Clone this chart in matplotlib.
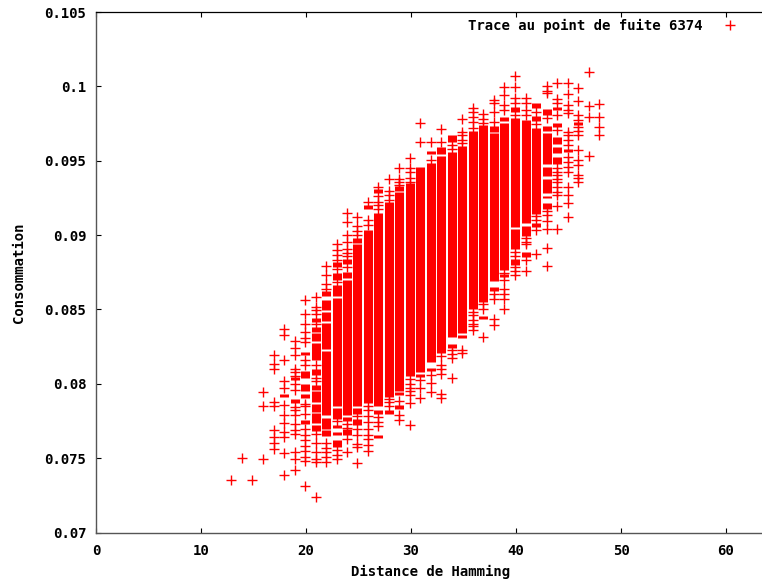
import matplotlib
matplotlib.use('Agg')
import matplotlib.pyplot as plt
from matplotlib.transforms import ScaledTranslation

RED = '#ff0000'

x_ticks = [0, 10, 20, 30, 40, 50, 60]
y_ticks = [0.07, 0.075, 0.08, 0.085, 0.09, 0.095, 0.1, 0.105]
y_tick_labels = ['0.07', '0.075', '0.08', '0.085', '0.09', '0.095', '0.1', '0.105']

# isolated readings, one list per Hamming distance
hd13 = [0.07350]
hd14 = [0.07503]
hd15 = [0.07350]
hd16 = [0.07947, 0.07850, 0.07496]
hd17 = [0.08196, 0.08135, 0.08102, 0.07877, 0.07850, 0.07687, 0.07642, 0.07601, 0.07563]
hd18 = [0.08366, 0.08326, 0.08162, 0.08019, 0.07974, 0.07855, 0.07792, 0.07736, 0.07675, 0.07642, 0.07536, 0.07390]
hd19 = [0.08286, 0.08241, 0.08191, 0.08102, 0.08079, 0.08052, 0.07996, 0.07960, 0.07844, 0.07826, 0.07788,
        0.07731, 0.07686, 0.07664, 0.07541, 0.07496, 0.07417]
hd20 = [0.08562, 0.08467, 0.08400, 0.08348, 0.08310, 0.08281, 0.08162, 0.08124, 0.07866, 0.07850, 0.07799,
        0.07693, 0.07657, 0.07619, 0.07579, 0.07547, 0.07507, 0.07478, 0.07316]
hd21 = [0.08584, 0.08517, 0.08494, 0.08467, 0.08405, 0.08124, 0.08041, 0.08019, 0.07664, 0.07603, 0.07541,
        0.07491, 0.07473, 0.07242]
hd22 = [0.08793, 0.08730, 0.08674, 0.08636, 0.07601, 0.07570, 0.07541, 0.07507, 0.07473]
hd23 = [0.08943, 0.08898, 0.08864, 0.08831, 0.08775, 0.08685, 0.07749, 0.07552, 0.07518, 0.07491]
hd24 = [0.09149, 0.09089, 0.08999, 0.08954, 0.08903, 0.08880, 0.08858, 0.08786, 0.07731, 0.07704, 0.07630, 0.07541]
hd25 = [0.09122, 0.09060, 0.09028, 0.08999, 0.07781, 0.07693, 0.07653, 0.07597, 0.07574, 0.07469]
hd26 = [0.09223, 0.09100, 0.09066, 0.07848, 0.07821, 0.07781, 0.07743, 0.07698, 0.07653, 0.07630, 0.07586, 0.07547]
hd27 = [0.09324, 0.09262, 0.09223, 0.09201, 0.09172, 0.07776, 0.07743, 0.07713]
hd28 = [0.09376, 0.09295, 0.09268, 0.09235, 0.07900, 0.07877, 0.07850]
hd29 = [0.09454, 0.09380, 0.09358, 0.09336, 0.07882, 0.07787, 0.07754]
hd30 = [0.09515, 0.09448, 0.09425, 0.09387, 0.09358, 0.08034, 0.08001, 0.07974, 0.07949, 0.07922, 0.07873, 0.07725]
hd31 = [0.09751, 0.09623, 0.08028, 0.07971, 0.07904]
hd32 = [0.09623, 0.09508, 0.08061, 0.08005, 0.07945]
hd33 = [0.09712, 0.09627, 0.08187, 0.08128, 0.08102, 0.08063, 0.07933, 0.07906]
hd34 = [0.09605, 0.09576, 0.08225, 0.08198, 0.08173, 0.08039]
hd35 = [0.09778, 0.09695, 0.09672, 0.09638, 0.09616, 0.08225, 0.08209]
hd36 = [0.09856, 0.09829, 0.09796, 0.09762, 0.09717, 0.08483, 0.08461, 0.08427, 0.08405, 0.08387, 0.08364]
hd37 = [0.09813, 0.09778, 0.09751, 0.08535, 0.08505, 0.08315]
hd38 = [0.09908, 0.09885, 0.09829, 0.09762, 0.08606, 0.08573, 0.08434, 0.08393]
hd39 = [0.09997, 0.09941, 0.09874, 0.09840, 0.08746, 0.08696, 0.08640, 0.08606, 0.08568, 0.08505]
hd40 = [0.10072, 0.09997, 0.09919, 0.09885, 0.09807, 0.08887, 0.08860, 0.08786, 0.08757, 0.08730]
hd41 = [0.09919, 0.09885, 0.09840, 0.09807, 0.08977, 0.08954, 0.08938, 0.08835, 0.08759]
hd42 = [0.09829, 0.09744, 0.09127, 0.09100, 0.09033, 0.08871]
hd43 = [0.10002, 0.09968, 0.09953, 0.09784, 0.09161, 0.09134, 0.09096, 0.09044, 0.08914, 0.08793]
hd44 = [0.10024, 0.09912, 0.09885, 0.09807, 0.09706, 0.09448, 0.09425, 0.09403, 0.09380, 0.09358, 0.09324,
        0.09291, 0.09268, 0.09196, 0.09039]
hd45 = [0.10024, 0.09948, 0.09874, 0.09840, 0.09818, 0.09695, 0.09672, 0.09638, 0.09605, 0.09526, 0.09493,
        0.09459, 0.09421, 0.09320, 0.09268, 0.09217, 0.09122]
hd46 = [0.09986, 0.09903, 0.09807, 0.09773, 0.09728, 0.09701, 0.09672, 0.09571, 0.09508, 0.09470, 0.09403,
        0.09387, 0.09358]
hd47 = [0.10094, 0.09867, 0.09791, 0.09531]
hd48 = [0.09879, 0.09796, 0.09728, 0.09672]

singles = {13: hd13, 14: hd14, 15: hd15, 16: hd16, 17: hd17, 18: hd18, 19: hd19, 20: hd20, 21: hd21, 22: hd22,
           23: hd23, 24: hd24, 25: hd25, 26: hd26, 27: hd27, 28: hd28, 29: hd29, 30: hd30, 31: hd31, 32: hd32,
           33: hd33, 34: hd34, 35: hd35, 36: hd36, 37: hd37, 38: hd38, 39: hd39, 40: hd40, 41: hd41, 42: hd42,
           43: hd43, 44: hd44, 45: hd45, 46: hd46, 47: hd47, 48: hd48}

# stretches where the crosses overlap into solid red: distance, top, bottom
band_x = [18, 19, 19, 20, 20, 20, 20, 20,
          21, 21, 21, 21, 21, 21, 21, 21, 21, 21,
          22, 22, 22, 22, 22, 22, 22,
          23, 23, 23, 23, 23, 23, 23, 23,
          24, 24, 24, 24, 24,
          25, 25, 25, 25,
          26, 26,
          27, 27, 27, 27,
          28, 28,
          29, 29, 29, 29,
          30,
          31, 31,
          32, 32, 32,
          33, 33,
          34, 34, 34,
          35, 35,
          36,
          37, 37,
          38, 38, 38,
          39, 39, 39,
          40, 40, 40, 40,
          41, 41, 41,
          42, 42, 42, 42,
          43, 43, 43, 43, 43, 43, 43,
          44, 44, 44, 44, 44,
          45, 46]
band_top = [0.07934, 0.08045, 0.07900, 0.08214, 0.08086, 0.08001, 0.07929, 0.07754,
            0.08445, 0.08382, 0.08341, 0.08277, 0.08097, 0.07994, 0.07951, 0.07866, 0.07803, 0.07720,
            0.08622, 0.08562, 0.08483, 0.08409, 0.08220, 0.07769, 0.07687,
            0.08817, 0.08745, 0.08663, 0.08580, 0.07839, 0.07720, 0.07675, 0.07619,
            0.08842, 0.08752, 0.08696, 0.07776, 0.07695,
            0.08977, 0.08938, 0.07835, 0.07761,
            0.09201, 0.09033,
            0.09313, 0.09149, 0.07821, 0.07658,
            0.09221, 0.07821,
            0.09329, 0.09288, 0.07944, 0.07859,
            0.09351,
            0.09459, 0.08068,
            0.09566, 0.09486, 0.08106,
            0.09589, 0.09531,
            0.09672, 0.09560, 0.08265,
            0.09598, 0.08331,
            0.09699,
            0.09739, 0.08456,
            0.09735, 0.09688, 0.08649,
            0.09795, 0.09755, 0.08741,
            0.09863, 0.09787, 0.09039, 0.08842,
            0.09773, 0.09062, 0.08887,
            0.09885, 0.09802, 0.09719, 0.09078,
            0.09845, 0.09735, 0.09686, 0.09459, 0.09376, 0.09266, 0.09216,
            0.09863, 0.09755, 0.09661, 0.09589, 0.09526,
            0.09576, 0.09762]
band_bottom = [0.07911, 0.08023, 0.07870, 0.08191, 0.08041, 0.07951, 0.07907, 0.07732,
               0.08418, 0.08348, 0.08288, 0.08158, 0.08061, 0.07960, 0.07877, 0.07810, 0.07738, 0.07682,
               0.08590, 0.08499, 0.08422, 0.08236, 0.07788, 0.07698, 0.07648,
               0.08784, 0.08696, 0.08589, 0.07850, 0.07765, 0.07700, 0.07653, 0.07574,
               0.08804, 0.08708, 0.07788, 0.07747, 0.07658,
               0.08947, 0.07848, 0.07799, 0.07720,
               0.09172, 0.07870,
               0.09286, 0.07848, 0.07794, 0.07635,
               0.07911, 0.07799,
               0.09297, 0.07951, 0.07922, 0.07828,
               0.08050,
               0.08077, 0.08045,
               0.09542, 0.08146, 0.08084,
               0.09544, 0.08205,
               0.09623, 0.08315, 0.08238,
               0.08339, 0.08308,
               0.08501,
               0.08550, 0.08434,
               0.09694, 0.08689, 0.08627,
               0.09768, 0.08764, 0.08718,
               0.09829, 0.09053, 0.08903, 0.08797,
               0.09080, 0.08992, 0.08853,
               0.09852, 0.09766, 0.09140, 0.09055,
               0.09807, 0.09699, 0.09477, 0.09396, 0.09282, 0.09248, 0.09174,
               0.09840, 0.09724, 0.09611, 0.09553, 0.09477,
               0.09558, 0.09739]

plt.rcParams['font.family'] = ['DejaVu Sans Mono']
plt.rcParams['font.weight'] = 'bold'
plt.rcParams['font.size'] = 10.1

fig = plt.figure(figsize=(7.62, 5.87), dpi=100)
ax = fig.add_axes([96 / 762, 1 - 532.5 / 587, 666 / 762, 520.5 / 587])

# marks sit one pixel left of the tick positions in the original
nudge = ax.transData + ScaledTranslation(-1 / 100, 0, fig.dpi_scale_trans)

ax.vlines(band_x, band_bottom, band_top, color=RED, linewidth=6.5, transform=nudge)
points_x = []
points_y = []
for distance, values in singles.items():
    points_x += [distance] * len(values)
    points_y += values
ax.plot(points_x, points_y, linestyle='none', marker='+', markersize=6.6, markeredgewidth=1.0,
        color=RED, transform=nudge, label='Trace au point de fuite 6374')

ax.set_xlim(0, 666 / 10.5)
ax.set_ylim(0.07, 0.105)
ax.set_xticks(x_ticks)
ax.set_yticks(y_ticks)
ax.set_yticklabels(y_tick_labels)
ax.tick_params(direction='in', length=3.6, width=0.8, top=True, right=False, colors='black')
ax.tick_params(axis='x', pad=8)
ax.tick_params(axis='y', pad=7)
ax.spines['right'].set_visible(False)
for side in ['left', 'bottom']:
    ax.spines[side].set_color('#555555')
    ax.spines[side].set_linewidth(1.0)
ax.spines['top'].set_linewidth(0.9)

ax.legend(loc='upper right', bbox_to_anchor=(0.9775, 1.0), frameon=False, markerfirst=False, numpoints=1,
          handlelength=1.4, handletextpad=1.3, borderpad=0.3, borderaxespad=0.2)

fig.text(19 / 762, 1 - 273 / 587, 'Consommation', rotation=90, ha='center', va='center')
fig.text(431 / 762, 1 - 572 / 587, 'Distance de Hamming', ha='center', va='center')

fig.savefig('out.png', dpi=100)
